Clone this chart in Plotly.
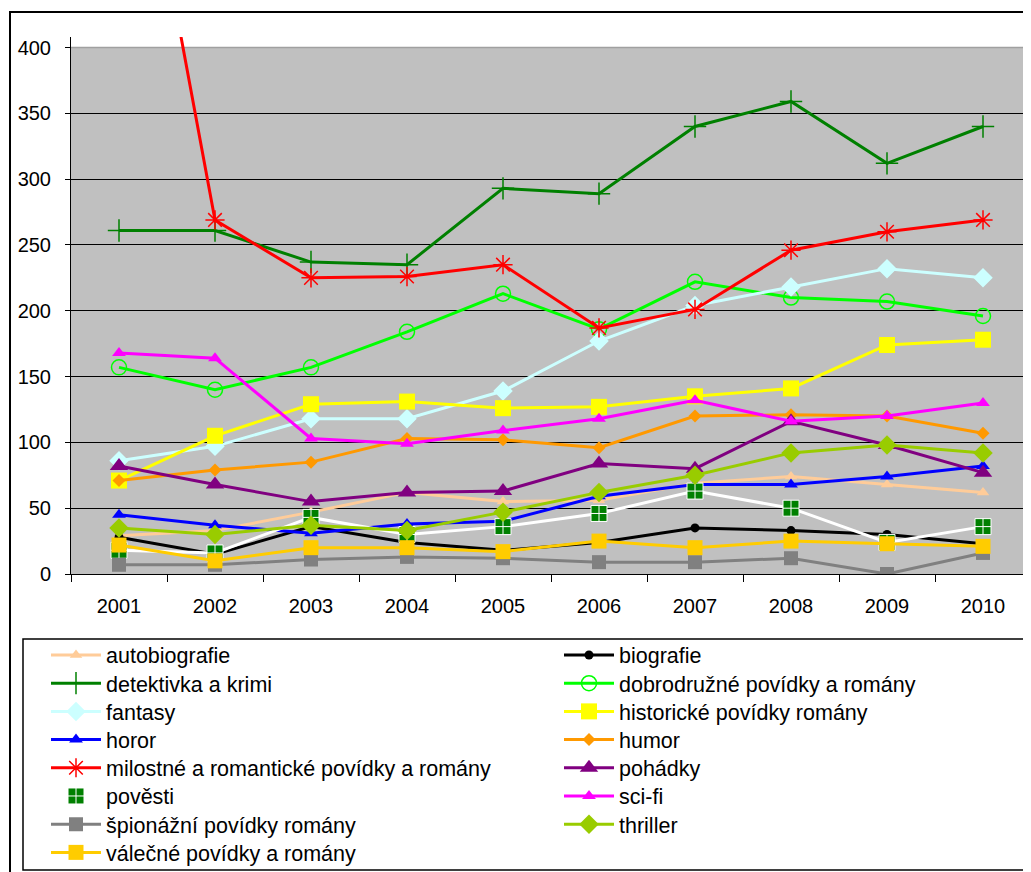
import plotly.graph_objects as go

years = ["2001", "2002", "2003", "2004", "2005", "2006", "2007", "2008", "2009", "2010"]

autobiografie = [29, 33, 47, 62, 55, 56, 69, 74, 68, 62]
biografie = [28, 15, 36, 24, 18, 24, 35, 33, 30, 23]
detektivka = [261, 261, 237, 235, 293, 289, 340, 359, 312, 340]
dobrodruzne = [157, 140, 157, 184, 213, 186, 222, 210, 207, 196]
fantasy = [86, 97, 118, 118, 139, 177, 204, 218, 232, 225]
historicke = [71, 105, 129, 131, 126, 127, 135, 141, 174, 178]
horor = [45, 37, 31, 38, 40, 59, 68, 68, 74, 82]
humor = [71, 79, 85, 103, 102, 96, 120, 121, 120, 107]
milostne = [662, 269, 225, 226, 235, 187, 201, 246, 260, 269]
pohadky = [82, 68, 55, 62, 63, 84, 80, 116, 98, 77]
povesti = [18, 16, 43, 30, 36, 46, 63, 50, 24, 36]
scifi = [168, 164, 103, 99, 109, 118, 132, 116, 120, 130]
spionazni = [7, 7, 11, 13, 12, 9, 9, 12, 0, 16]
thriller = [35, 30, 37, 33, 47, 62, 75, 92, 98, 92]
valecne = [22, 10, 20, 20, 17, 25, 20, 25, 23, 21]

y_ticks = [0, 50, 100, 150, 200, 250, 300, 350, 400]

series = [
    ("autobiografie", autobiografie, "#FFCC99", "triangle-up", 11, "#FFCC99"),
    ("biografie", biografie, "#000000", "circle", 9, "#000000"),
    ("detektivka a krimi", detektivka, "#008000", "cross-thin-open", 16, "#008000"),
    ("dobrodružné povídky a romány", dobrodruzne, "#00FF00", "circle-open", 15, "#00FF00"),
    ("fantasy", fantasy, "#CCFFFF", "diamond", 15, "#CCFFFF"),
    ("historické povídky romány", historicke, "#FFFF00", "square", 16, "#FFFF00"),
    ("horor", horor, "#0000FF", "triangle-up", 12, "#0000FF"),
    ("humor", humor, "#FF9900", "diamond", 10, "#FF9900"),
    ("milostné a romantické povídky a romány", milostne, "#FF0000", "asterisk-open", 16, "#FF0000"),
    ("pohádky", pohadky, "#800080", "triangle-up", 16, "#800080"),
    ("pověsti", povesti, "#FFFFFF", "square-cross", 16, "#008000"),
    ("sci-fi", scifi, "#FF00FF", "triangle-up", 12, "#FF00FF"),
    ("špionážní povídky romány", spionazni, "#808080", "square", 14, "#808080"),
    ("thriller", thriller, "#99CC00", "diamond", 15, "#99CC00"),
    ("válečné povídky a romány", valecne, "#FFCC00", "square", 15, "#FFCC00"),
]

# page offset (browser body margin)
OFF = 8
W, H = 1031, 872
ml = 71 - OFF
mt = 37 - OFF
ph = 574 - 37
pw = 960
mr = W - ml - pw
mb = H - mt - ph


def sx(p):
    return (p - OFF - ml) / pw


def sy(p):
    return (H - mb - (p - OFF)) / ph


fig = go.Figure()
legend_layouts = {}
for i, (name, vals, lc, sym, sz, mc) in enumerate(series):
    if sym == "square-cross":
        marker = dict(symbol=sym, size=sz, color=mc, line=dict(color="#FFFFFF", width=1))
    elif sym.endswith("-open"):
        marker = dict(symbol=sym, size=sz, color=mc, line=dict(color=mc, width=1.5))
    else:
        marker = dict(symbol=sym, size=sz, color=mc, line=dict(width=0))
    lname = "legend" if i == 0 else f"legend{i + 1}"
    fig.add_trace(go.Scatter(
        x=years, y=vals, name=name, mode="lines+markers",
        line=dict(color=lc, width=3), marker=marker, legend=lname,
    ))
    col, row = i % 2, i // 2
    legend_layouts[lname] = dict(
        x=sx(46 if col == 0 else 559), y=sy(655 + row * 28.2),
        xanchor="left", yanchor="middle", orientation="v",
        itemwidth=50, maxheight=1,
        font=dict(size=21.5, family="Liberation Sans, Arial, sans-serif", color="#000000"),
        bgcolor="rgba(0,0,0,0)", borderwidth=0,
        itemclick=False, itemdoubleclick=False,
    )

shapes = [
    dict(type="rect", xref="paper", yref="y", x0=0, x1=1, y0=0, y1=400,
         fillcolor="#C0C0C0", line=dict(width=0), layer="below"),
    dict(type="line", xref="paper", yref="y", x0=0, x1=1, y0=400, y1=400,
         line=dict(color="#A0A0A0", width=1.5), layer="below"),
    dict(type="rect", xref="paper", yref="paper", x0=sx(23), x1=sx(1045),
         y0=sy(870), y1=sy(639), line=dict(color="#000000", width=1.5),
         fillcolor="rgba(0,0,0,0)"),
    dict(type="rect", xref="paper", yref="paper", x0=sx(10), x1=sx(1050),
         y0=sy(900), y1=sy(12), line=dict(color="#000000", width=2),
         fillcolor="rgba(0,0,0,0)"),
]

fig.update_layout(
    width=W, height=H,
    margin=dict(l=ml, r=mr, t=mt, b=mb, pad=0, autoexpand=False),
    paper_bgcolor="#FFFFFF", plot_bgcolor="#FFFFFF",
    font=dict(family="Liberation Sans, Arial, sans-serif", size=20, color="#000000"),
    shapes=shapes,
    showlegend=True,
    xaxis=dict(
        type="category", range=[-0.5, 9.5], tickson="boundaries",
        ticks="outside", ticklen=7, tickcolor="#000000", tickwidth=1,
        showline=True, linecolor="#000000", linewidth=1, showgrid=False,
        ticklabelstandoff=14, tickfont=dict(size=20),
        fixedrange=True,
    ),
    yaxis=dict(
        range=[0, 408], tickvals=y_ticks, ticks="outside", ticklen=5,
        tickcolor="#000000", showline=True, linecolor="#000000", linewidth=1,
        showgrid=False, zeroline=False, ticklabelstandoff=10,
        tickfont=dict(size=20),
        minor=dict(tickvals=y_ticks[1:-1], showgrid=True, gridcolor="#000000",
                   gridwidth=1, ticks=""),
        fixedrange=True,
    ),
    **legend_layouts,
)

fig.write_html("out.html")
